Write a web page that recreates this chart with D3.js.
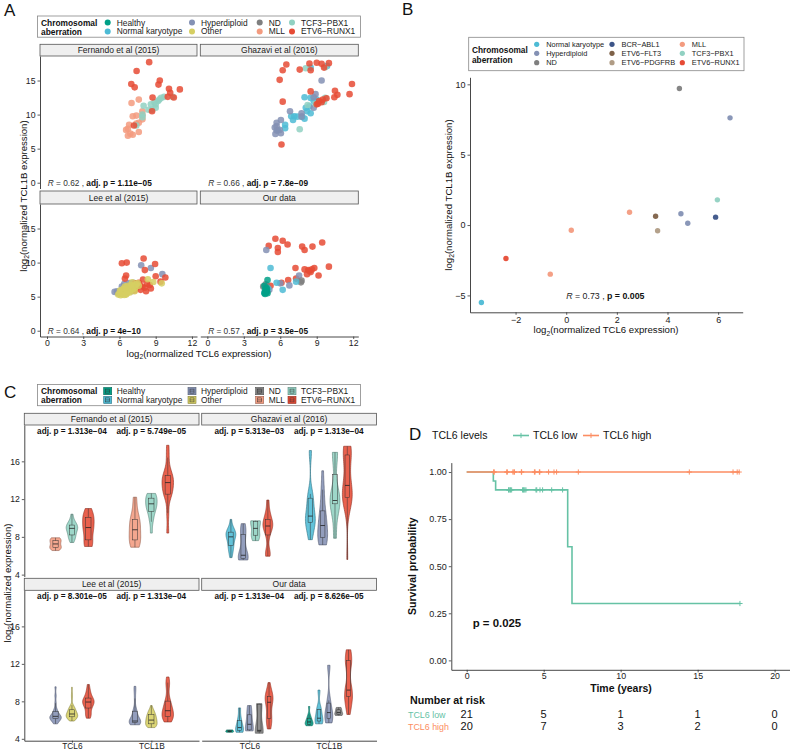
<!DOCTYPE html>
<html>
<head>
<meta charset="utf-8">
<script src="https://cdn.jsdelivr.net/npm/d3@7"></script>
<style>
  body { margin: 0; background: #fff; }
</style>
</head>
<body>
<svg id="fig" width="790" height="750"></svg>
<script>
// ---- data ----
const groupCodes = ["H", "NK", "HD", "O", "ND", "MLL", "TP", "ER", "BA", "EF", "EP"];
const groupNames = ["Healthy", "Normal karyotype", "Hyperdiploid", "Other", "ND", "MLL", "TCF3−PBX1", "ETV6−RUNX1", "BCR−ABL1", "ETV6−FLT3", "ETV6−PDGFRB"];
const groupColors = ["#00A087", "#4DBBD5", "#8491B4", "#D6CF63", "#7F7F7F", "#F39B7F", "#91D1C2", "#E64B35", "#3C5488", "#7E6148", "#B09C85"];

const datasets = ["Fernando et al (2015)", "Ghazavi et al (2016)", "Lee et al (2015)", "Our data"];
const corrR = ["0.62", "0.66", "0.64", "0.57"];
const corrP = ["1.11e−05", "7.8e−09", "4e−10", "3.5e−05"];
const genes = ["TCL6", "TCL1B"];
const pTCL6 = ["1.313e−04", "5.313e−03", "8.301e−05", "1.313e−04"];
const pTCL1B = ["5.749e−05", "1.313e−04", "1.313e−04", "8.626e−05"];

// [TCL6, TCL1B, group]
const fernando = [
  [7.6,12.2,"MLL"],[7.0,11.7,"MLL"],[7.9,10.5,"MLL"],[7.9,9.9,"MLL"],[7.4,9.85,"MLL"],[7.1,9.75,"MLL"],[7.9,9.3,"MLL"],[7.4,8.7,"MLL"],
  [6.8,8.5,"MLL"],[6.7,7.9,"MLL"],[6.55,7.75,"MLL"],[7.6,7.45,"MLL"],[6.9,7.2,"MLL"],[7.1,7.05,"MLL"],[6.7,6.9,"MLL"],[7.6,8.8,"MLL"],
  [7.4,8.4,"TP"],[7.9,9.6,"TP"],[8.0,11.3,"TP"],[8.6,11.5,"TP"],[8.7,10.7,"TP"],[8.4,10.7,"TP"],[9.0,11.0,"TP"],[9.2,12.0,"TP"],
  [9.3,12.2,"TP"],[9.7,12.6,"TP"],[9.45,12.45,"TP"],[10.4,12.6,"TP"],[9.0,11.5,"TP"],[7.9,10.0,"TP"],[8.9,11.8,"TP"],
  [8.46,17.7,"ER"],[7.42,16.4,"ER"],[6.98,14.5,"ER"],[7.26,14.0,"ER"],[9.34,15.0,"ER"],[9.23,14.4,"ER"],[10.1,13.8,"ER"],[11.0,13.7,"ER"],
  [8.74,12.5,"ER"],[10.2,13.2,"ER"],[10.0,12.6,"ER"],[10.5,12.5,"ER"],[8.7,10.5,"ER"],[7.2,8.4,"ER"]
];
const ghazavi = [
  [8.5,16.9,"NK"],[9.85,17.15,"NK"],[8.0,12.55,"NK"],[8.5,12.45,"NK"],[8.75,12.0,"NK"],[9.0,12.2,"NK"],[8.1,11.0,"NK"],[8.4,11.2,"NK"],
  [8.5,10.2,"NK"],[7.8,9.7,"NK"],[8.0,9.4,"NK"],[6.9,9.75,"NK"],[7.15,9.75,"NK"],[7.05,9.2,"NK"],[6.4,8.5,"NK"],[6.4,8.0,"NK"],
  [7.4,9.7,"NK"],[8.2,10.5,"NK"],[5.8,7.7,"NK"],
  [9.4,15.0,"HD"],[8.9,13.0,"HD"],[8.75,12.55,"HD"],[6.8,10.5,"HD"],[7.75,10.2,"HD"],[6.05,9.2,"HD"],[5.7,8.8,"HD"],[5.7,8.3,"HD"],
  [5.55,8.1,"HD"],[5.7,7.65,"HD"],[5.6,7.15,"HD"],[6.05,7.25,"HD"],[5.95,7.75,"HD"],[7.75,9.7,"HD"],[8.75,11.0,"HD"],
  [8.1,16.8,"TP"],[9.7,16.95,"TP"],[9.7,12.45,"TP"],[9.6,11.85,"TP"],[8.25,11.4,"TP"],[7.6,7.85,"TP"],[8.9,11.6,"TP"],
  [6.5,17.35,"ER"],[6.2,16.5,"ER"],[7.6,16.6,"ER"],[8.4,17.5,"ER"],[9.0,17.6,"ER"],[9.4,17.45,"ER"],[10.0,17.55,"ER"],[9.6,16.9,"ER"],
  [8.5,16.5,"ER"],[5.95,15.1,"ER"],[8.5,13.4,"ER"],[10.5,13.5,"ER"],[10.7,12.9,"ER"],[10.45,12.55,"ER"],[11.7,13.0,"ER"],[11.9,14.5,"ER"],
  [6.2,11.9,"ER"],[9.2,12.0,"ER"],[6.1,5.6,"ER"],[9.0,11.5,"ER"],[9.4,11.8,"ER"],[9.5,12.2,"ER"],[9.8,12.4,"ER"],[9.1,11.6,"ER"]
];
const lee = [
  [7.8,9.6,"HD"],[8.6,9.2,"HD"],[9.55,8.3,"HD"],[5.6,5.7,"HD"],[6.8,7.0,"HD"],[7.15,7.05,"HD"],[5.8,5.8,"HD"],[6.0,5.6,"HD"],
  [6.2,5.9,"HD"],[6.3,6.0,"HD"],[6.1,5.7,"HD"],[6.4,5.8,"HD"],[6.6,5.9,"HD"],[6.3,6.2,"HD"],[5.9,5.5,"HD"],[6.5,5.7,"HD"],
  [6.2,6.5,"HD"],[7.0,5.8,"HD"],[6.4,6.9,"HD"],
  [6.2,9.9,"ER"],[6.6,10.0,"ER"],[8.0,10.6,"ER"],[8.95,9.8,"ER"],[8.1,8.9,"ER"],[9.0,8.0,"ER"],[9.8,7.8,"ER"],[6.55,8.1,"ER"],
  [6.45,7.65,"ER"],[7.3,6.95,"ER"],[7.75,6.0,"ER"],[8.1,6.3,"ER"],[8.5,6.7,"ER"],[7.25,5.9,"ER"],[6.8,6.4,"ER"],[8.2,5.8,"ER"],
  [7.6,7.05,"ER"],[7.9,6.5,"ER"],[8.3,6.9,"ER"],[7.7,6.6,"ER"],[8.6,6.2,"ER"],[7.4,6.3,"ER"],[9.4,7.2,"ER"],[7.95,7.5,"ER"],
  [5.9,5.3,"O"],[6.0,5.5,"O"],[6.1,5.2,"O"],[6.2,5.6,"O"],[6.3,5.4,"O"],[6.4,5.8,"O"],[6.5,5.5,"O"],[6.6,6.0,"O"],
  [6.7,5.7,"O"],[6.8,6.2,"O"],[6.9,5.9,"O"],[7.0,6.4,"O"],[7.1,6.1,"O"],[7.2,6.6,"O"],[7.3,6.3,"O"],[7.4,6.8,"O"],
  [6.2,6.0,"O"],[6.35,6.2,"O"],[6.45,6.5,"O"],[6.55,5.3,"O"],[6.65,6.6,"O"],[6.05,5.9,"O"],[6.25,5.35,"O"],[6.75,6.35,"O"],
  [6.95,6.7,"O"],[7.5,7.0,"O"],[7.6,6.6,"O"],[6.15,5.75,"O"],[6.5,6.15,"O"],[6.85,5.6,"O"],[7.05,7.1,"O"],[7.25,5.8,"O"],
  [8.35,7.55,"O"],[8.8,7.15,"O"],[9.5,6.95,"O"],[6.4,5.25,"O"],[6.6,5.45,"O"]
];
const ours = [
  [5.6,13.5,"ER"],[6.2,13.2,"ER"],[6.6,12.65,"ER"],[5.05,12.45,"ER"],[5.8,12.15,"ER"],[5.8,11.55,"ER"],[7.8,12.35,"ER"],[8.0,11.85,"ER"],
  [8.65,12.35,"ER"],[9.45,12.95,"ER"],[7.25,9.2,"ER"],[8.0,9.0,"ER"],[8.3,8.9,"ER"],[8.5,8.6,"ER"],[8.8,9.2,"ER"],[8.2,8.3,"ER"],
  [9.15,8.1,"ER"],[10.0,9.4,"ER"],[7.3,7.65,"ER"],[6.65,7.45,"ER"],[5.2,6.6,"ER"],[6.1,7.05,"ER"],[8.4,8.8,"ER"],[8.6,9.0,"ER"],
  [4.85,11.85,"HD"],[6.0,6.95,"HD"],[6.75,6.65,"HD"],[7.55,8.1,"HD"],[4.9,5.7,"HD"],[5.1,6.0,"HD"],
  [7.75,7.35,"ND"],[4.6,6.5,"ND"],[4.9,6.6,"ND"],[4.8,6.8,"ND"],[7.7,7.1,"ND"],
  [5.2,9.2,"NK"],[5.7,7.05,"NK"],[6.2,6.0,"NK"],[4.7,5.6,"NK"],[5.0,6.2,"NK"],[4.8,5.8,"NK"],[7.3,7.2,"NK"],
  [4.95,7.45,"H"],[4.7,5.5,"H"],[4.8,5.6,"H"],[4.9,5.8,"H"],[4.75,6.0,"H"],[4.85,6.3,"H"],[4.95,5.5,"H"],[4.7,6.6,"H"],
  [4.8,5.7,"H"],[4.9,6.1,"H"],[4.75,5.4,"H"]
];
const scatterData = [fernando, ghazavi, lee, ours];

// panel B: cell lines
const cellTCL6  = [4.47, 6.47, 5.97, 4.53, 4.8, 5.9, 3.53, 3.61, 2.5, 0.2, -0.63, -2.38, -3.35];
const cellTCL1B = [9.7, 7.62, 1.79, 0.8, 0.13, 0.56, 0.63, -0.41, 0.91, -0.37, -3.49, -2.38, -5.5];
const cellGroup = ["ND", "HD", "TP", "HD", "HD", "BA", "EF", "EP", "MLL", "MLL", "MLL", "ER", "NK"];
const legendB = ["NK", "HD", "ND", "BA", "EF", "EP", "MLL", "TP", "ER"];

// panel D: Kaplan-Meier
const kmLowTime = [0, 1.73, 1.88, 6.56, 6.84, 17.75];
const kmLowSurv = [1, 0.952, 0.905, 0.603, 0.302, 0.302];
const kmLowCensor = [2.72, 2.75, 2.81, 2.85, 2.92, 3.63, 3.68, 3.72, 3.78, 3.85, 4.5, 4.55, 4.76, 4.93, 5.52, 6.23, 17.75];
const kmHighTime = [0, 17.7];
const kmHighSurv = [1, 1];
const kmHighCensor = [1.75, 1.79, 2.6, 2.64, 3.0, 3.07, 3.1, 3.55, 3.57, 4.4, 4.44, 4.72, 4.75, 5.32, 5.67, 5.84, 7.25, 14.46, 17.3, 17.57, 17.7];
const riskTimes = [0, 5, 10, 15, 20];
const riskLow = [21, 5, 1, 1, 0];
const riskHigh = [20, 7, 3, 2, 0];
const kmColors = ["#66C2A5", "#FC8D62"];

// ---- helpers ----
const FONT = '"Liberation Sans", Arial, Helvetica, sans-serif';
const AX = "#333";
const color = d3.scaleOrdinal(groupCodes, groupColors);
const nameOf = d3.scaleOrdinal(groupCodes, groupNames);

const svg = d3.select("#fig").attr("font-family", FONT);
svg.append("rect").attr("width", 790).attr("height", 750).attr("fill", "#fff");

function styleAxis(g, fs) {
  g.attr("font-family", FONT).attr("font-size", fs);
  g.select(".domain").attr("stroke", AX).attr("stroke-width", 0.9);
  g.selectAll(".tick line").attr("stroke", AX).attr("stroke-width", 0.8);
  g.selectAll(".tick text").attr("fill", "#222");
}
function label(t, x, y, fs, opts) {
  opts = opts || {};
  return svg.append("text").attr("x", x).attr("y", y).attr("font-size", fs)
    .attr("text-anchor", opts.anchor || "start")
    .attr("font-weight", opts.bold ? "bold" : null)
    .attr("fill", opts.fill || "#111").text(t);
}
function log2Title(x, y, rest, fs, rotate) {
  const t = svg.append("text").attr("font-size", fs).attr("text-anchor", "middle").attr("fill", "#111")
    .attr("transform", `translate(${x},${y})` + (rotate ? " rotate(-90)" : ""));
  t.append("tspan").text("log");
  t.append("tspan").attr("font-size", fs * 0.7).attr("dy", fs * 0.3).text("2");
  t.append("tspan").attr("dy", -fs * 0.3).text(rest);
}
function strip(x0, x1, y0, y1, txt) {
  svg.append("rect").attr("x", x0).attr("y", y0).attr("width", x1 - x0).attr("height", y1 - y0)
    .attr("fill", "#EFEFEF").attr("stroke", "#555").attr("stroke-width", 0.8);
  label(txt, (x0 + x1) / 2, (y0 + y1) / 2 + 3.1, 8.5, { anchor: "middle", fill: "#1a1a1a" });
}

// ---- panel labels ----
label("A", 4, 16, 17);
label("B", 402, 15, 17);
label("C", 4, 398, 17);
label("D", 409, 440, 17);

// ---- legend A / C ----
function legendGroups(boxY, keyType) {
  const y0 = boxY, rows = [y0 + 6.6, y0 + 15.4];
  svg.append("rect").attr("x", 37.5).attr("y", y0).attr("width", 323).attr("height", 21.2)
    .attr("fill", "#fff").attr("stroke", "#888").attr("stroke-width", 0.8);
  label("Chromosomal", 41, rows[0] + 2.9, 8.4, { bold: true });
  label("aberration", 41, rows[1] + 3.1, 8.4, { bold: true });
  const colX = [107.7, 192, 259.7, 292];
  groupCodes.slice(0, 8).forEach((c, i) => {
    const cx = colX[Math.floor(i / 2)], cy = rows[i % 2];
    if (keyType === "dot") {
      svg.append("circle").attr("cx", cx).attr("cy", cy).attr("r", 3).attr("fill", color(c));
    } else {
      const fill = color(c), dark = d3.color(fill).darker(1.3);
      svg.append("rect").attr("x", cx - 4).attr("y", cy - 3.6).attr("width", 8).attr("height", 7.2)
        .attr("fill", fill).attr("stroke", dark).attr("stroke-width", 0.6);
      svg.append("rect").attr("x", cx - 2).attr("y", cy - 2).attr("width", 4).attr("height", 4)
        .attr("fill", "none").attr("stroke", "#333").attr("stroke-width", 0.5);
      svg.append("line").attr("x1", cx - 2).attr("x2", cx + 2).attr("y1", cy).attr("y2", cy)
        .attr("stroke", "#333").attr("stroke-width", 0.5);
    }
    label(nameOf(c), cx + 9, cy + 3, 8.4, { fill: "#1a1a1a" });
  });
}
legendGroups(16, "dot");
legendGroups(384.5, "box");

// ---- panel A: facet scatter ----
const colsA = [[40, 197], [200.3, 358.3]];
const rowsA = [{ strip: [44.3, 56], panel: [56, 188.5] }, { strip: [191, 204], panel: [204, 336.5] }];
scatterData.forEach((data, k) => {
  const c = colsA[k % 2], r = rowsA[Math.floor(k / 2)];
  const x = d3.scaleLinear([-0.58, 12.42], c);
  const y = d3.scaleLinear([-0.85, 18.6], [r.panel[1], r.panel[0]]);
  strip(c[0], c[1], r.strip[0], r.strip[1], datasets[k]);
  svg.append("g").selectAll("circle").data(data).join("circle")
    .attr("cx", d => x(d[0])).attr("cy", d => y(d[1])).attr("r", 3.3)
    .attr("fill", d => color(d[2])).attr("fill-opacity", 0.85);
  if (k % 2 === 0) {
    svg.append("g").attr("transform", `translate(${c[0]},0)`)
      .call(d3.axisLeft(y).tickValues([0, 5, 10, 15]).tickSize(2.5).tickSizeOuter(0).tickPadding(2))
      .call(g => styleAxis(g, 8.7));
  }
  if (k >= 2) {
    svg.append("g").attr("transform", `translate(0,${r.panel[1]})`)
      .call(d3.axisBottom(x).tickValues([0, 3, 6, 9, 12]).tickSize(2.5).tickSizeOuter(0).tickPadding(0.5))
      .call(g => styleAxis(g, 8.7));
  }
  const t = svg.append("text").attr("x", x(0) + 0.8).attr("y", y(0) + 3).attr("font-size", 8.3).attr("fill", "#333");
  t.append("tspan").attr("font-style", "italic").text("R");
  t.append("tspan").text(` = ${corrR[k]} , `);
  t.append("tspan").attr("font-weight", "bold").attr("fill", "#111").text(`adj. p = ${corrP[k]}`);
});
log2Title(199, 356.5, "(normalized TCL6 expression)", 9.6, false);
log2Title(26.5, 196, "(normalized TCL1B expression)", 9.6, true);

// ---- panel B ----
{
  const x = d3.scaleLinear([-3.8, 6.97], [470, 742.7]);
  const y = d3.scaleLinear([-6.2, 10.5], [312.3, 77.3]);
  svg.append("rect").attr("x", 468.7).attr("y", 37.3).attr("width", 275.3).attr("height", 33.4)
    .attr("fill", "#fff").attr("stroke", "#888").attr("stroke-width", 0.8);
  label("Chromosomal", 472, 53, 8.3, { bold: true });
  label("aberration", 472, 63, 8.3, { bold: true });
  const colX = [536.7, 612, 682.3], rowY = [44.3, 53.3, 62.7];
  legendB.forEach((c, i) => {
    const cx = colX[Math.floor(i / 3)], cy = rowY[i % 3];
    svg.append("circle").attr("cx", cx).attr("cy", cy).attr("r", 2.6).attr("fill", color(c));
    label(nameOf(c), cx + 9.5, cy + 2.7, 7.4, { fill: "#1a1a1a" });
  });
  svg.append("g").selectAll("circle").data(cellTCL6).join("circle")
    .attr("cx", d => x(d)).attr("cy", (d, i) => y(cellTCL1B[i])).attr("r", 2.7)
    .attr("fill", (d, i) => color(cellGroup[i])).attr("fill-opacity", 0.95);
  const minus = d => d3.format("d")(d).replace("-", "−");
  svg.append("g").attr("transform", "translate(470,0)")
    .call(d3.axisLeft(y).tickValues([-5, 0, 5, 10]).tickFormat(minus).tickSize(2.5).tickSizeOuter(0).tickPadding(2))
    .call(g => styleAxis(g, 9));
  svg.append("g").attr("transform", "translate(0,312.3)")
    .call(d3.axisBottom(x).tickValues([-2, 0, 2, 4, 6]).tickFormat(minus).tickSize(2.5).tickSizeOuter(0).tickPadding(1.5))
    .call(g => styleAxis(g, 9));
  const t = svg.append("text").attr("x", x(0)).attr("y", y(-5) + 3.2).attr("font-size", 8.8).attr("fill", "#222");
  t.append("tspan").attr("font-style", "italic").text("R");
  t.append("tspan").text(" = 0.73 , ");
  t.append("tspan").attr("font-weight", "bold").attr("fill", "#111").text("p = 0.005");
  log2Title(606, 333, "(normalized TCL6 expression)", 9.6, false);
  log2Title(451.5, 195, "(normalized TCL1B expression)", 9.6, true);
}

// ---- panel C: violins ----
function density(vals, n) {
  const s = vals.slice().sort(d3.ascending);
  const sd = d3.deviation(s) || 0;
  const iqr = d3.quantile(s, 0.75) - d3.quantile(s, 0.25);
  let lo = Math.min(sd, iqr / 1.34);
  if (!(lo > 0)) lo = sd || 0.1;
  const bw = 0.9 * lo * Math.pow(s.length, -0.2);
  const a = s[0], b = s[s.length - 1];
  return d3.range(n).map(i => {
    const v = a + (b - a) * i / (n - 1);
    return [v, d3.mean(s, u => Math.exp(-0.5 * ((v - u) / bw) ** 2))];
  });
}
const colsC = [[24.3, 199], [201.7, 376.5]];
const rowsC = [{ strip: [413.3, 425], panel: [425, 576.5] }, { strip: [578.3, 590.3], panel: [590.3, 740.7] }];
scatterData.forEach((data, k) => {
  const c = colsC[k % 2], r = rowsC[Math.floor(k / 2)];
  const xs = d3.scalePoint(genes, c).padding(0.6);
  const y = d3.scaleLinear([3.8, 19.85], [r.panel[1], r.panel[0]]);
  strip(c[0], c[1], r.strip[0], r.strip[1], datasets[k]);
  const present = groupCodes.filter(g => data.some(d => d[2] === g));
  const dodge = 0.62 * xs.step(), slot = dodge / present.length;
  const vw = Math.min(slot * 0.8, 11.5);
  const g = svg.append("g");
  genes.forEach((gene, gi) => {
    present.forEach((grp, j) => {
      const vals = data.filter(d => d[2] === grp).map(d => d[gi]).sort(d3.ascending);
      const cx = xs(gene) - dodge / 2 + slot * (j + 0.5);
      const dens = density(vals, 60);
      const dmax = d3.max(dens, d => d[1]);
      const fill = color(grp);
      g.append("path").datum(dens)
        .attr("d", d3.area().y(d => y(d[0])).x0(d => cx - d[1] / dmax * vw / 2).x1(d => cx + d[1] / dmax * vw / 2))
        .attr("fill", fill).attr("fill-opacity", 0.88)
        .attr("stroke", d3.color(fill).darker(1.4)).attr("stroke-width", 0.6);
      const q1 = d3.quantile(vals, 0.25), med = d3.quantile(vals, 0.5), q3 = d3.quantile(vals, 0.75);
      const iqr = q3 - q1;
      const wLo = d3.min(vals.filter(v => v >= q1 - 1.5 * iqr)), wHi = d3.max(vals.filter(v => v <= q3 + 1.5 * iqr));
      const bw = vw * 0.46;
      g.append("line").attr("x1", cx).attr("x2", cx).attr("y1", y(wLo)).attr("y2", y(q1)).attr("stroke", "#333").attr("stroke-width", 0.5);
      g.append("line").attr("x1", cx).attr("x2", cx).attr("y1", y(q3)).attr("y2", y(wHi)).attr("stroke", "#333").attr("stroke-width", 0.5);
      g.append("rect").attr("x", cx - bw / 2).attr("y", y(q3)).attr("width", bw).attr("height", Math.max(0.3, y(q1) - y(q3)))
        .attr("fill", "none").attr("stroke", "#333").attr("stroke-width", 0.5);
      g.append("line").attr("x1", cx - bw / 2).attr("x2", cx + bw / 2).attr("y1", y(med)).attr("y2", y(med))
        .attr("stroke", "#222").attr("stroke-width", 0.8);
    });
    const pv = gi === 0 ? pTCL6[k] : pTCL1B[k];
    label(`adj. p = ${pv}`, xs(gene), r.panel[0] + 8.6, 8.2, { anchor: "middle", bold: true });
  });
  if (k % 2 === 0) {
    svg.append("g").attr("transform", `translate(${c[0]},0)`)
      .call(d3.axisLeft(y).tickValues([4, 8, 12, 16]).tickSize(2.5).tickSizeOuter(0).tickPadding(2))
      .call(g2 => styleAxis(g2, 8.7));
  }
  if (k >= 2) {
    svg.append("g").attr("transform", `translate(0,${r.panel[1]})`)
      .call(d3.axisBottom(xs).tickSize(2).tickSizeOuter(0).tickPadding(0.3))
      .call(g2 => styleAxis(g2, 8.3));
  }
});
log2Title(10.5, 583, "(normalized expression)", 9.6, true);

// ---- panel D: survival ----
{
  const x = d3.scaleLinear([-1, 21], [451.3, 790]);
  const y = d3.scaleLinear([-0.05, 1.05], [669.8, 462.6]);
  const line = d3.line().x(d => x(d[0])).y(d => y(d[1])).curve(d3.curveStepAfter);
  const curves = [
    { t: kmLowTime, s: kmLowSurv, cens: kmLowCensor, col: kmColors[0] },
    { t: kmHighTime, s: kmHighSurv, cens: kmHighCensor, col: kmColors[1] }
  ];
  curves.forEach(cv => {
    const pts = cv.t.map((t, i) => [t, cv.s[i]]);
    svg.append("path").datum(pts).attr("d", line).attr("fill", "none")
      .attr("stroke", cv.col).attr("stroke-width", 1.6);
    const marks = cv.cens.map(t => [t, cv.s[Math.max(0, d3.bisectRight(cv.t, t) - 1)]]);
    svg.append("g").selectAll("path").data(marks).join("path")
      .attr("d", d => `M${x(d[0]) - 2.6},${y(d[1])}h5.2M${x(d[0])},${y(d[1]) - 2.6}v5.2`)
      .attr("stroke", cv.col).attr("stroke-width", 1);
  });
  svg.append("g").attr("transform", "translate(451.3,0)")
    .call(d3.axisLeft(y).tickValues([0, 0.25, 0.5, 0.75, 1]).tickFormat(d3.format(".2f")).tickSize(2.5).tickSizeOuter(0).tickPadding(2))
    .call(g => styleAxis(g, 9));
  svg.append("g").attr("transform", "translate(0,669.8)")
    .call(d3.axisBottom(x).tickValues(riskTimes).tickSize(2.5).tickSizeOuter(0).tickPadding(0.5))
    .call(g => styleAxis(g, 8.8));
  label("Time (years)", 621, 691.5, 10.5, { anchor: "middle", bold: true });
  svg.append("text").attr("transform", "translate(415.5,566.2) rotate(-90)").attr("text-anchor", "middle")
    .attr("font-size", 10.5).attr("font-weight", "bold").attr("fill", "#111").text("Survival probability");
  label("p = 0.025", 472.7, 627.2, 11.4, { bold: true });

  // legend
  label("TCL6 levels", 432, 439, 10.5);
  [["TCL6 low", 513, 533], ["TCL6 high", 583, 603]].forEach((L, i) => {
    svg.append("line").attr("x1", L[1]).attr("x2", L[1] + 16).attr("y1", 435.5).attr("y2", 435.5)
      .attr("stroke", kmColors[i]).attr("stroke-width", 1.6);
    svg.append("path").attr("d", `M${L[1] + 5.4},435.5h5.2M${L[1] + 8},432.9v5.2`).attr("stroke", kmColors[i]).attr("stroke-width", 1);
    label(L[0], L[2], 439, 10.5);
  });

  // risk table
  label("Number at risk", 410, 703.5, 10.7, { bold: true });
  [[riskLow, "TCL6 low", 717.5], [riskHigh, "TCL6 high", 729.8]].forEach((R, i) => {
    label(R[1], 408, R[2], 8.9, { fill: kmColors[i] });
    R[0].forEach((n, j) => label(String(n), x(riskTimes[j]), R[2] + 0.5, 11, { anchor: "middle" }));
  });
}
</script>
</body>
</html>
